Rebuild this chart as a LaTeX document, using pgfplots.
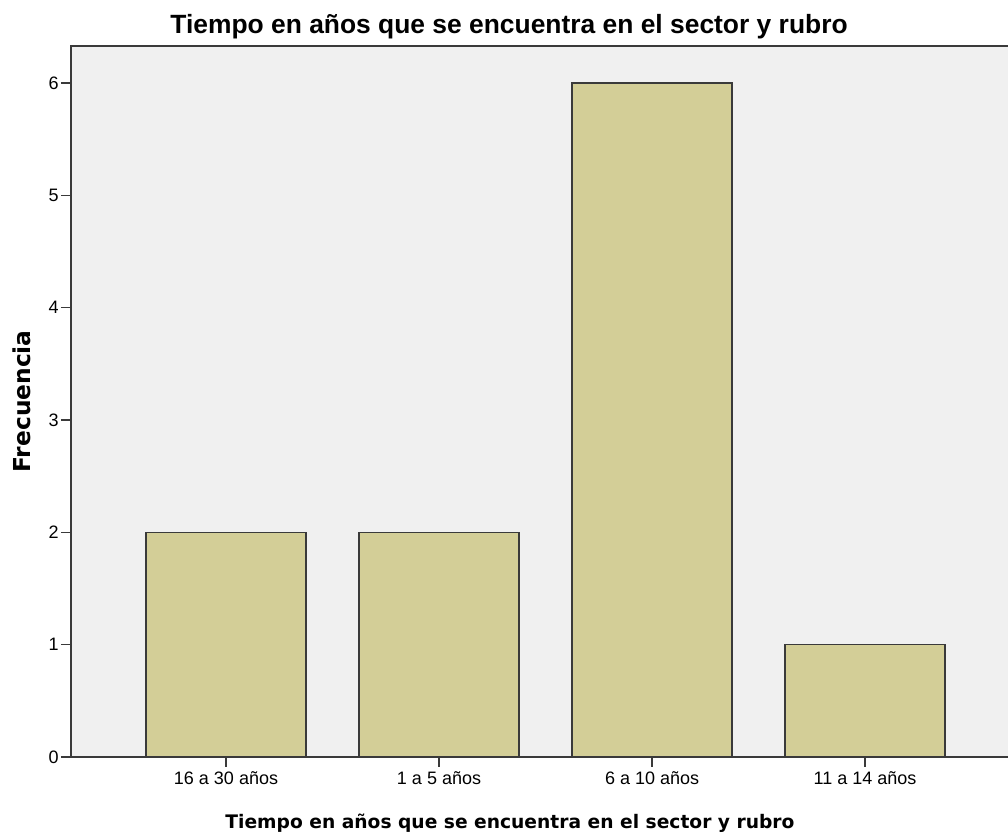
\documentclass[border=0pt]{standalone}
\usepackage{fontspec}
\setmainfont{Liberation Sans}
\newfontfamily\dejavu{DejaVu Sans}
\usepackage{pgfplots}
\pgfplotsset{compat=1.18}

\definecolor{bggray}{HTML}{F0F0F0}
\definecolor{bartan}{HTML}{D3CE97}
\definecolor{linegray}{HTML}{3A3A3A}

\begin{document}
\begin{tikzpicture}
\begin{axis}[
    at={(53.25pt,61.5pt)}, anchor=south west,
    scale only axis,
    width=702.75pt, height=533.25pt,
    xmin=-0.7277, xmax=3.671,
    ymin=0, ymax=6.33,
    axis background/.style={fill=bggray},
    axis line style={draw=none},
    clip=false,
    xtick={0,1,2,3},
    xticklabels={16 a 30 años, 1 a 5 años, 6 a 10 años, 11 a 14 años},
    ytick={0,1,2,3,4,5,6},
    xtick pos=bottom, ytick pos=left,
    tick align=outside,
    major tick length=7.5pt,
    tick style={linegray, line width=1pt},
    /pgf/number format/assume math mode=true,
    ticklabel style={font=\fontsize{13.5}{16}\selectfont, text=black},
    yticklabel style={inner sep=1.5pt},
    title={Tiempo en años que se encuentra en el sector y rubro},
    title style={font=\fontsize{19.8}{23}\selectfont\bfseries,
        at={(axis description cs:0.4675,1)}, anchor=base, yshift=3pt},
    xlabel={Tiempo en años que se encuentra en el sector y rubro},
    xlabel style={font=\dejavu\bfseries\fontsize{14}{17}\selectfont,
        at={(axis description cs:0.4685,0)}, anchor=base, yshift=-54pt},
    ylabel={Frecuencia},
    ylabel style={font=\dejavu\bfseries\fontsize{17.5}{20}\selectfont,
        at={(axis description cs:-0.0437,0.5)}, anchor=base},
]
\addplot[ybar, bar width=0.751, bar shift=0, fill=bartan, draw=linegray, line width=1pt]
    coordinates {(0,2) (1,2) (2,6) (3,1)};
\draw[linegray, line width=1.3pt] (rel axis cs:1,1) -- (rel axis cs:0,1)
    -- (rel axis cs:0,0) -- (rel axis cs:1,0);
\end{axis}
\pgfresetboundingbox
\path (0,0) rectangle (756pt,629.25pt);
\end{tikzpicture}
\end{document}
